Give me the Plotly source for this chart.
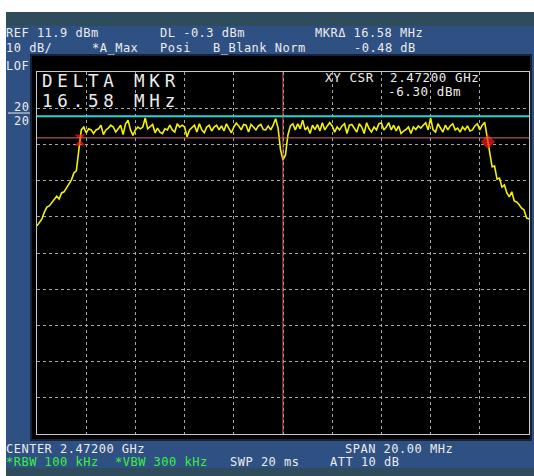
import plotly.graph_objects as go

# ---------------- instrument settings ----------------
START_GHZ = 2.462
STOP_GHZ = 2.482
CENTER_GHZ = 2.472
REF_DBM = 11.9
DB_PER_DIV = 10
DIVS = 10
DL_DBM = -0.3
XY_CSR_GHZ = 2.472
XY_CSR_DBM = -6.30

# ---------------- trace data (dBm, 201 sweep points) ----------------
left_skirt = [-30.6, -29.8, -28.7, -26.8, -25.4, -25.1, -24.3, -23.5, -22.4, -23.2,
              -21.5, -21.2, -20.1, -19.3, -17.9, -16.0, -15.4, -9.7]
band_a = [-4.1, -3.3, -4.9, -3.8, -4.1, -5.1, -4.1, -3.8, -2.8, -5.4,
          -4.1, -3.6, -2.8, -3.3, -4.7, -3.8, -2.8, -5.4, -2.4, -1.4,
          -4.1, -5.6, -4.1, -3.3, -3.8, -3.3, -0.8, -3.8, -3.3, -2.6,
          -4.9, -3.6, -4.7, -5.1, -3.8, -4.1, -2.8, -4.1, -4.7, -2.4]
band_b = [-3.3, -2.8, -3.3, -6.0, -4.1, -3.3, -2.8, -4.7, -2.4, -4.1,
          -4.9, -3.3, -2.8, -4.4, -3.3, -2.8, -4.1, -3.0, -4.4, -2.4,
          -3.8, -4.9, -3.3, -2.2, -3.0, -4.1, -2.6, -2.8, -4.7, -2.6,
          -3.3, -4.1, -3.0, -2.6, -4.0, -4.1, -3.0, -4.1, -2.8, -1.0]
center_notch = [-3.6, -9.6, -12.4, -11.0, -5.5, -3.0]
band_c = [-2.4, -4.1, -2.4, -3.8, -1.4, -4.1, -3.3, -5.1, -2.8, -4.0,
          -2.6, -4.4, -2.1, -4.1, -3.0, -2.1, -3.0, -4.7, -3.3, -4.1,
          -3.0, -2.4, -5.1, -2.8, -2.6, -3.8, -4.7, -2.4, -3.3, -5.1,
          -2.1, -3.8, -4.7, -3.3, -4.1, -2.4, -2.2, -4.1, -3.3, -2.1]
band_d = [-4.1, -2.8, -4.4, -3.0, -5.1, -4.4, -4.0, -3.3, -5.1, -3.3,
          -4.0, -3.0, -3.6, -2.8, -2.1, -4.1, -0.8, -4.1, -4.7, -2.4,
          -3.6, -4.7, -2.8, -4.1, -3.0, -2.4, -4.1, -3.6, -4.7, -3.3,
          -4.1, -3.0, -4.4, -4.1, -3.0, -2.4, -4.1, -2.8, -2.0, -6.4, -9.6]
right_skirt = [-14.3, -14.1, -17.7, -17.4, -19.9, -19.3, -21.5, -22.6, -21.2, -23.7,
               -24.0, -24.8, -25.7, -26.2, -28.4, -28.7]

levels = left_skirt + band_a + band_b + center_notch + band_c + band_d + right_skirt
n = len(levels)
freqs = [START_GHZ + (STOP_GHZ - START_GHZ) * i / (n - 1) for i in range(n)]

# markers
MKR_FREQ_GHZ = [2.46375, 2.48033]
MKR_LEVEL_DBM = [-6.90, -7.38]
MKR_SYMBOLS = ["hourglass", "diamond"]

# ---------------- colours ----------------
BLUE = "#2f5082"
TEAL = "#2e4c5c"
TXT = "#ececec"
GREEN = "#3cf03c"
YELLOW = "#f4f200"
CYAN = "#22d6d6"
SALMON = "#d86c6c"
MONO = "DejaVu Sans Mono"

W, H = 534, 476
L, R, T, B = 37, 529, 72, 434


def px(x):
    return (x - L) / (R - L)


def py(y):
    return (B - y) / (B - T)


fig = go.Figure()

fig.add_trace(go.Scatter(x=freqs, y=levels, mode="lines",
                         line=dict(color=YELLOW, width=1.6), hoverinfo="skip",
                         showlegend=False))
fig.add_trace(go.Scatter(x=MKR_FREQ_GHZ, y=MKR_LEVEL_DBM, mode="markers",
                         marker=dict(symbol=MKR_SYMBOLS, size=[11, 11], color="#ff1a1a",
                                     line=dict(width=0)),
                         hoverinfo="skip", showlegend=False))

# ---------------- background panels ----------------
def rect(x0, y0, x1, y1, color, line=None):
    fig.add_shape(type="rect", xref="paper", yref="paper",
                  x0=px(x0), x1=px(x1), y0=py(y1), y1=py(y0),
                  fillcolor=color, line=line or dict(width=0), layer="below")


rect(6, 12, 534, 26, TEAL)
rect(6, 26, 534, 468, BLUE)
rect(6, 468, 534, 476, TEAL)
rect(31, 55, 531, 440, "#000000", dict(color="#14233a", width=2))

# ---------------- overlay lines ----------------
fig.add_shape(type="line", xref="paper", yref="y", x0=0, x1=1, y0=DL_DBM, y1=DL_DBM,
              line=dict(color=CYAN, width=2))
fig.add_shape(type="line", xref="paper", yref="y", x0=0, x1=1, y0=XY_CSR_DBM, y1=XY_CSR_DBM,
              line=dict(color=SALMON, width=1))
fig.add_shape(type="line", xref="x", yref="paper", x0=XY_CSR_GHZ, x1=XY_CSR_GHZ, y0=0, y1=1,
              line=dict(color=SALMON, width=1))
fig.add_shape(type="line", xref="paper", yref="paper", x0=px(8), x1=px(30), y0=py(113), y1=py(113),
              line=dict(color=TXT, width=1))


def label(x, y, text, size=12, color=TXT, spacing=0.5):
    fig.add_annotation(xref="paper", yref="paper", x=px(x), y=py(y),
                       text=f'<span style="letter-spacing:{spacing}px">{text}</span>',
                       showarrow=False, xanchor="left", yanchor="middle",
                       borderpad=0, font=dict(family=MONO, size=size, color=color))


# header
label(5, 33, "REF 11.9 dBm")
label(159, 33, "DL -0.3 dBm")
label(314, 33, "MKRΔ 16.58 MHz")
label(5, 48, "10 dB/")
label(91, 48, "*A_Max")
label(159, 48, "Posi")
label(212, 48, "B_Blank Norm")
label(353, 48, "-0.48 dB")
# left panel
label(5, 66, "LOF")
label(13, 107, "20")
label(13, 121, "20")
# footer
label(5, 449, "CENTER 2.47200 GHz")
label(344, 449, "SPAN 20.00 MHz")
label(5, 462, "*RBW 100 kHz", color=GREEN)
label(114, 462, "*VBW 300 kHz", color=GREEN)
label(229, 462, "SWP 20 ms")
label(329, 462, "ATT 10 dB")
# in-screen readouts
label(41, 80.5, "DELTA MKR", size=17.5, spacing=4.8)
label(41, 100.5, "16.58 MHz", size=17.5, spacing=4.8)
label(324, 78, "XY CSR  2.47200 GHz", size=12.5, spacing=0.6)
label(387, 92, "-6.30 dBm", size=12.5, spacing=0.6)

fig.update_layout(
    width=W, height=H, autosize=False,
    margin=dict(l=L, r=W - R, t=T, b=H - B, pad=0),
    paper_bgcolor="#ffffff", plot_bgcolor="#000000",
    showlegend=False,
    xaxis=dict(range=[START_GHZ, STOP_GHZ], tick0=START_GHZ,
               dtick=(STOP_GHZ - START_GHZ) / DIVS, showticklabels=False, ticks="",
               showgrid=True, gridcolor="#a8a8a8", griddash="dot", gridwidth=1,
               zeroline=False, showline=True, mirror=True, linecolor="#c8c8c8", linewidth=1,
               fixedrange=True),
    yaxis=dict(range=[REF_DBM - DB_PER_DIV * DIVS, REF_DBM], tick0=REF_DBM, dtick=DB_PER_DIV,
               showticklabels=False, ticks="",
               showgrid=True, gridcolor="#a8a8a8", griddash="dot", gridwidth=1,
               zeroline=False, showline=True, mirror=True, linecolor="#c8c8c8", linewidth=1,
               fixedrange=True),
)

fig.write_html("out.html", config={"displayModeBar": False},
               post_script="document.body.style.margin='0';document.body.style.overflow='hidden';")
